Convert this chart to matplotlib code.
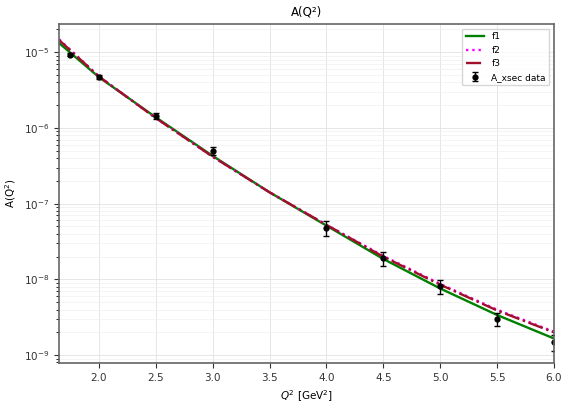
import numpy as np
import matplotlib
matplotlib.use("Agg")
import matplotlib.pyplot as plt
from matplotlib.ticker import NullFormatter

# data points
q2_data = [1.75, 2.0, 2.5, 3.0, 4.0, 4.5, 5.0, 5.5, 6.0]
a_data = [9.3e-6, 4.7e-6, 1.45e-6, 5.0e-7, 4.8e-8, 1.9e-8, 8.2e-9, 3.0e-9, 1.48e-9]
a_err = [0.5e-6, 0.25e-6, 0.13e-6, 0.6e-7, 1.1e-8, 0.4e-8, 1.7e-9, 0.6e-9, 0.35e-9]

# fit curves (log10 values read at these Q^2)
q2_fit = [1.65, 2.0, 2.5, 3.0, 3.5, 4.0, 4.5, 5.0, 5.5, 6.0]
f1_log = [-4.88, -5.33, -5.86, -6.37, -6.85, -7.29, -7.73, -8.12, -8.47, -8.78]
f2_log = [-4.83, -5.32, -5.87, -6.38, -6.85, -7.28, -7.69, -8.06, -8.40, -8.69]
f3_log = [-4.84, -5.32, -5.87, -6.38, -6.85, -7.28, -7.70, -8.07, -8.41, -8.70]

fig = plt.figure(figsize=(5.63, 4.03), dpi=100)
ax = fig.add_axes([0.105, 0.099, 0.879, 0.841])

ax.plot(q2_fit, 10 ** np.array(f1_log), color="green", lw=1.7, label="f1")
ax.plot(q2_fit, 10 ** np.array(f2_log), color="magenta", lw=1.7, ls=":", label="f2")
ax.plot(q2_fit, 10 ** np.array(f3_log), color="#a0102a", lw=1.7, ls="-.", label="f3")
ax.errorbar(q2_data, a_data, yerr=a_err, fmt="o", color="black", ms=3.5,
            capsize=2, elinewidth=1, label="A_xsec data")

ax.set_yscale("log")
ax.set_xlim(1.65, 6.0)
ax.set_ylim(10 ** -9.105, 10 ** -4.63)
ax.set_xticks([2.0, 2.5, 3.0, 3.5, 4.0, 4.5, 5.0, 5.5, 6.0])
ax.yaxis.set_minor_formatter(NullFormatter())
ax.tick_params(labelsize=7.5, colors="#333333")
ax.grid(which="major", color="#e2e2e2", lw=0.6)
ax.grid(which="minor", axis="y", color="#f0f0f0", lw=0.5)
for s in ax.spines.values():
    s.set_color("#666666")
    s.set_linewidth(1.2)

ax.set_title("A(Q²)", fontsize=8.5)
ax.set_xlabel("$Q^2$ [GeV$^2$]", fontsize=7.5)
ax.set_ylabel("A(Q$^2$)", fontsize=7.5)
ax.legend(loc="upper right", fontsize=6.5)

fig.savefig("out.png", dpi=100)
